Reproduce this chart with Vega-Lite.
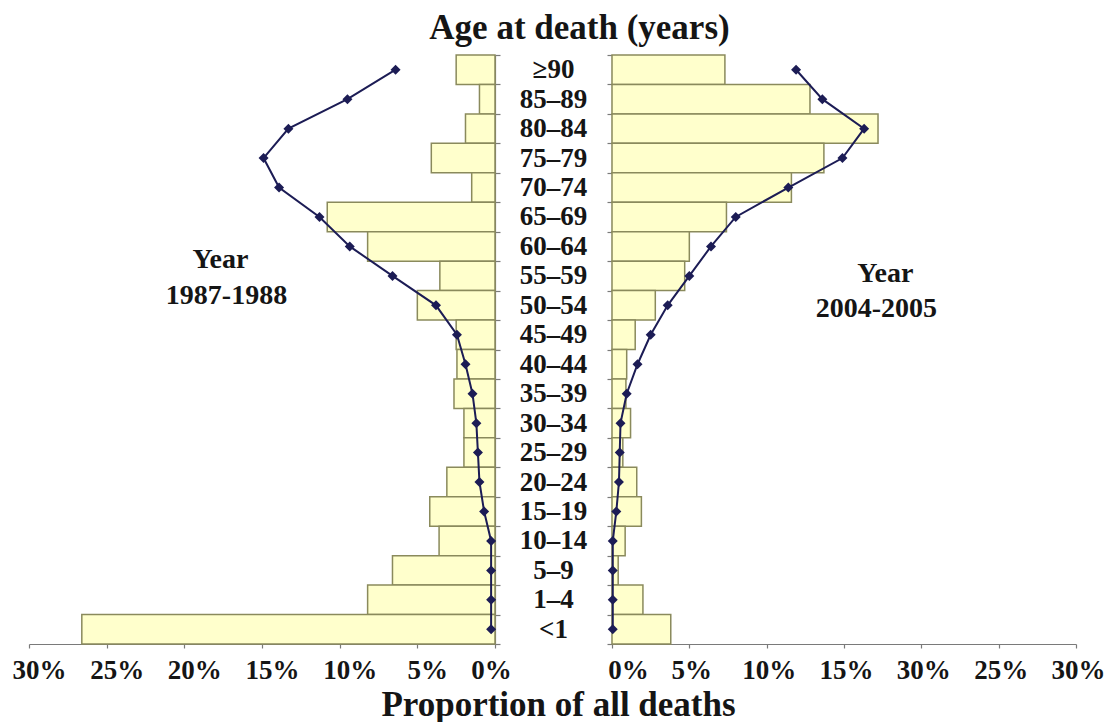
{
  "$schema": "https://vega.github.io/schema/vega-lite/v6.json",
  "background": "white",
  "padding": {"left": 12, "right": 10, "top": 11, "bottom": 0},
  "title": {"text": "Age at death (years)", "font": "Liberation Serif", "fontSize": 35, "fontWeight": "bold", "color": "#151515", "anchor": "middle", "offset": -5, "dx": 21},
  "datasets": {
    "deaths": [
      {"age": "≥90", "idx": 0, "bar1987": 2.5, "line1987": 6.4, "bar2004": 7.3, "line2004": 11.9},
      {"age": "85–89", "idx": 1, "bar1987": 1.0, "line1987": 9.5, "bar2004": 12.8, "line2004": 13.6},
      {"age": "80–84", "idx": 2, "bar1987": 1.9, "line1987": 13.3, "bar2004": 17.2, "line2004": 16.3},
      {"age": "75–79", "idx": 3, "bar1987": 4.1, "line1987": 14.9, "bar2004": 13.7, "line2004": 14.9},
      {"age": "70–74", "idx": 4, "bar1987": 1.5, "line1987": 13.9, "bar2004": 11.6, "line2004": 11.4},
      {"age": "65–69", "idx": 5, "bar1987": 10.8, "line1987": 11.3, "bar2004": 7.4, "line2004": 8.0},
      {"age": "60–64", "idx": 6, "bar1987": 8.2, "line1987": 9.35, "bar2004": 5.0, "line2004": 6.4},
      {"age": "55–59", "idx": 7, "bar1987": 3.55, "line1987": 6.6, "bar2004": 4.7, "line2004": 5.0},
      {"age": "50–54", "idx": 8, "bar1987": 5.0, "line1987": 3.8, "bar2004": 2.8, "line2004": 3.6},
      {"age": "45–49", "idx": 9, "bar1987": 2.5, "line1987": 2.45, "bar2004": 1.5, "line2004": 2.5},
      {"age": "40–44", "idx": 10, "bar1987": 2.45, "line1987": 1.9, "bar2004": 0.95, "line2004": 1.65},
      {"age": "35–39", "idx": 11, "bar1987": 2.64, "line1987": 1.45, "bar2004": 0.9, "line2004": 0.95},
      {"age": "30–34", "idx": 12, "bar1987": 2.0, "line1987": 1.2, "bar2004": 1.2, "line2004": 0.55},
      {"age": "25–29", "idx": 13, "bar1987": 2.0, "line1987": 1.1, "bar2004": 0.7, "line2004": 0.5},
      {"age": "20–24", "idx": 14, "bar1987": 3.1, "line1987": 1.0, "bar2004": 1.6, "line2004": 0.45},
      {"age": "15–19", "idx": 15, "bar1987": 4.2, "line1987": 0.7, "bar2004": 1.9, "line2004": 0.28},
      {"age": "10–14", "idx": 16, "bar1987": 3.6, "line1987": 0.25, "bar2004": 0.85, "line2004": 0.05},
      {"age": "5–9", "idx": 17, "bar1987": 6.6, "line1987": 0.25, "bar2004": 0.4, "line2004": 0.05},
      {"age": "1–4", "idx": 18, "bar1987": 8.2, "line1987": 0.25, "bar2004": 2.0, "line2004": 0.05},
      {"age": "<1", "idx": 19, "bar1987": 26.6, "line1987": 0.25, "bar2004": 3.8, "line2004": 0.05}
    ]
  },
  "config": {
    "view": {"stroke": null},
    "axis": {
      "labelFont": "Liberation Serif", "labelFontWeight": "bold", "labelColor": "#151515",
      "titleFont": "Liberation Serif", "titleFontWeight": "bold", "titleColor": "#151515",
      "domainColor": "#7a7a7a", "tickColor": "#7a7a7a", "domainWidth": 1.2, "tickWidth": 1.2, "grid": false,
      "labelOverlap": false, "labelFlush": false
    }
  },
  "bounds": "flush",
  "spacing": 117,
  "hconcat": [
    {
      "width": 466,
      "height": 589,
      "data": {"name": "deaths"},
      "encoding": {
        "y": {"field": "age", "type": "nominal", "sort": ["≥90", "85–89", "80–84", "75–79", "70–74", "65–69", "60–64", "55–59", "50–54", "45–49", "40–44", "35–39", "30–34", "25–29", "20–24", "15–19", "10–14", "5–9", "1–4", "<1"],
          "scale": {"paddingInner": 0, "paddingOuter": 0},
          "axis": {"orient": "right", "labels": false, "title": null, "tickBand": "extent", "tickSize": 5}},
        "x": {"field": "v", "type": "quantitative", "scale": {"domain": [0, 30], "reverse": true, "nice": false},
          "axis": {"values": [0, 5, 10, 15, 20, 25, 30], "labelExpr": "datum.value + '%'", "labelFontSize": 27, "labelPadding": 9, "tickSize": 4,
            "labelOffset": {"condition": {"test": "datum.value === 0", "value": -4}, "value": 10},
            "title": "Proportion of all deaths", "titleFontSize": 35, "titleX": 529, "titleY": 71, "titleAlign": "center", "titleAnchor": "start", "titleBaseline": "alphabetic"}}
      },
      "layer": [
        {"transform": [{"fold": ["bar1987"], "as": ["k", "v"]}], "mark": {"type": "bar", "fill": "#ffffcc", "stroke": "#8a8a5c", "strokeWidth": 1.5}},
        {"transform": [{"fold": ["line1987"], "as": ["k", "v"]}], "mark": {"type": "line", "color": "#1c1c55", "strokeWidth": 2}, "encoding": {"order": {"field": "idx", "type": "quantitative"}}},
        {"transform": [{"fold": ["line1987"], "as": ["k", "v"]}], "mark": {"type": "point", "shape": "diamond", "filled": true, "size": 100, "color": "#1c1c55", "opacity": 1}},
        {"transform": [{"fold": ["line1987"], "as": ["k", "v"]}, {"filter": "datum.idx == 7"}],
          "mark": {"type": "text", "text": "Year", "font": "Liberation Serif", "fontWeight": "bold", "fontSize": 28, "color": "#151515", "align": "center", "baseline": "middle", "dx": -172, "dy": -16}},
        {"transform": [{"fold": ["line1987"], "as": ["k", "v"]}, {"filter": "datum.idx == 7"}],
          "mark": {"type": "text", "text": "1987-1988", "font": "Liberation Serif", "fontWeight": "bold", "fontSize": 28, "color": "#151515", "align": "center", "baseline": "middle", "dx": -166, "dy": 20}}
      ]
    },
    {
      "width": 464,
      "height": 589,
      "data": {"name": "deaths"},
      "encoding": {
        "y": {"field": "age", "type": "nominal", "sort": ["≥90", "85–89", "80–84", "75–79", "70–74", "65–69", "60–64", "55–59", "50–54", "45–49", "40–44", "35–39", "30–34", "25–29", "20–24", "15–19", "10–14", "5–9", "1–4", "<1"],
          "scale": {"paddingInner": 0, "paddingOuter": 0},
          "axis": {"orient": "left", "title": null, "tickBand": "extent", "tickSize": 5, "labelAlign": "center", "labelBaseline": "middle", "labelPadding": 54, "labelFontSize": 27}},
        "x": {"field": "v", "type": "quantitative", "scale": {"domain": [0, 30], "nice": false},
          "axis": {"values": [0, 5, 10, 15, 20, 25, 30], "labelExpr": "datum.value == 20 ? '30%' : datum.value + '%'", "labelFontSize": 27, "labelPadding": 9, "tickSize": 4,
            "labelOffset": {"condition": {"test": "datum.value === 0", "value": 16}, "value": 2},
            "title": null}}
      },
      "layer": [
        {"transform": [{"fold": ["bar2004"], "as": ["k", "v"]}], "mark": {"type": "bar", "fill": "#ffffcc", "stroke": "#8a8a5c", "strokeWidth": 1.5}},
        {"transform": [{"fold": ["line2004"], "as": ["k", "v"]}], "mark": {"type": "line", "color": "#1c1c55", "strokeWidth": 2}, "encoding": {"order": {"field": "idx", "type": "quantitative"}}},
        {"transform": [{"fold": ["line2004"], "as": ["k", "v"]}], "mark": {"type": "point", "shape": "diamond", "filled": true, "size": 100, "color": "#1c1c55", "opacity": 1}},
        {"transform": [{"fold": ["line2004"], "as": ["k", "v"]}, {"filter": "datum.idx == 7"}],
          "mark": {"type": "text", "text": "Year", "font": "Liberation Serif", "fontWeight": "bold", "fontSize": 28, "color": "#151515", "align": "center", "baseline": "middle", "dx": 196, "dy": -2}},
        {"transform": [{"fold": ["line2004"], "as": ["k", "v"]}, {"filter": "datum.idx == 7"}],
          "mark": {"type": "text", "text": "2004-2005", "font": "Liberation Serif", "fontWeight": "bold", "fontSize": 28, "color": "#151515", "align": "center", "baseline": "middle", "dx": 187, "dy": 33}}
      ]
    }
  ]
}
